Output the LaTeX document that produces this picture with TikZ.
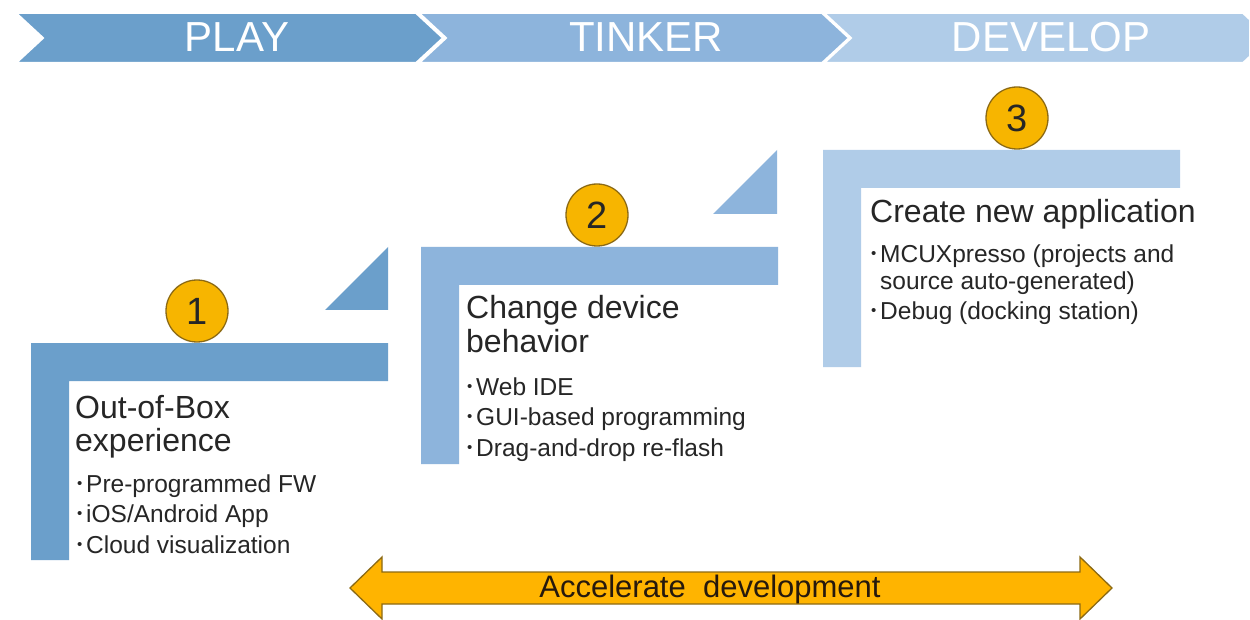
\documentclass[tikz,border=0pt]{standalone}
\usepackage{fontspec}
\setmainfont{Liberation Sans}
\usetikzlibrary{positioning}

\definecolor{playblue}{HTML}{6B9FCB}
\definecolor{tinkerblue}{HTML}{8DB4DC}
\definecolor{developblue}{HTML}{B0CCE8}
\definecolor{badgefill}{HTML}{F7B500}
\definecolor{badgeline}{HTML}{8C6A14}
\definecolor{arrowfill}{HTML}{FFB400}

\newcommand{\stepbullet}{\makebox[9pt][l]{\raisebox{4pt}{\fontsize{15}{15}\selectfont •}}}

\begin{document}
\begin{tikzpicture}[x=1pt, y=-1pt,
        phase/.style={text=white, inner sep=0, font=\fontsize{42}{42}\selectfont},
        chevron/.style={draw=white, line width=2pt},
        badge/.style={circle, draw=badgeline, line width=1.3pt, fill=badgefill, minimum size=62pt, inner sep=0, text=black!85, font=\fontsize{38}{38}\selectfont},
        heading/.style={anchor=base west, inner sep=0, text=black!85, font=\fontsize{32}{33}\selectfont},
        bullets/.style={anchor=base west, inner sep=0, text=black!85, font=\fontsize{24.5}{27}\selectfont}
    ]
        \fill[white] (0,0) rectangle (1250,620);
        \useasboundingbox (0,0) rectangle (1250,620);

        % banner
        \fill[developblue, chevron] (824,13) -- (1243,13) -- (1250,19.5) -- (1250,56.5) -- (1243,63) -- (824,63) -- (851,38) -- cycle;
        \fill[tinkerblue, chevron] (419,13) -- (822,13) -- (849,38) -- (822,63) -- (419,63) -- (446,38) -- cycle;
        \fill[playblue, chevron] (16,13) -- (416,13) -- (443,38) -- (416,63) -- (16,63) -- (43,38) -- cycle;
        \node[phase] (play) at (237,37) {PLAY};
        \node[phase] (tinker) at (646,37) {TINKER};
        \node[phase] (develop) at (1051,37) {DEVELOP};

        % steps
        \fill[playblue] (31,343) -- (388,343) -- (388,381) -- (69,381) -- (69,560) -- (31,560) -- cycle;
        \fill[playblue] (325,310) -- (388,310) -- (388,247) -- cycle;
        \fill[tinkerblue] (421,247) -- (778,247) -- (778,285) -- (459,285) -- (459,464) -- (421,464) -- cycle;
        \fill[tinkerblue] (713,214) -- (777,214) -- (777,150) -- cycle;
        \fill[developblue] (823,150) -- (1180,150) -- (1180,188) -- (861,188) -- (861,367) -- (823,367) -- cycle;

        \node[badge] (one) at (197,311) {1};
        \node[badge] (two) at (597,215) {2};
        \node[badge] (three) at (1017,118) {3};

        \node[heading] (boxtitle) at (75,418) {\parbox[t]{320pt}{Out-of-Box\\experience}};
        \node[bullets] (boxlist) at (77,492) {\parbox[t]{320pt}{\stepbullet Pre-programmed FW\\[3.5pt]\stepbullet iOS/Android App\\[3.5pt]\stepbullet Cloud visualization}};

        \node[heading] (changetitle) at (466,319) {\parbox[t]{320pt}{Change device\\behavior}};
        \node[bullets] (changelist) at (467,395) {\parbox[t]{320pt}{\stepbullet Web IDE\\[3.5pt]\stepbullet GUI-based programming\\[3.5pt]\stepbullet Drag-and-drop re-flash}};

        \node[heading] (createtitle) at (870,223) {Create new application};
        \node[bullets] (createlist) at (871,263) {\parbox[t]{360pt}{\stepbullet MCUXpresso (projects and\\\hspace*{9pt}source auto-generated)\\[3pt]\stepbullet Debug (docking station)}};

        % accelerate arrow
        \fill[arrowfill, draw=badgeline, line width=1.3pt] (350,588) -- (382,557) -- (382,572) -- (1080,572) -- (1080,557) -- (1112,588) -- (1080,619) -- (1080,604) -- (382,604) -- (382,619) -- cycle;
        \node[inner sep=0, anchor=base, text=black!80!brown, font=\fontsize{31}{31}\selectfont] (accel) at (710,597) {Accelerate\ \ development};
    \end{tikzpicture}
\end{document}
